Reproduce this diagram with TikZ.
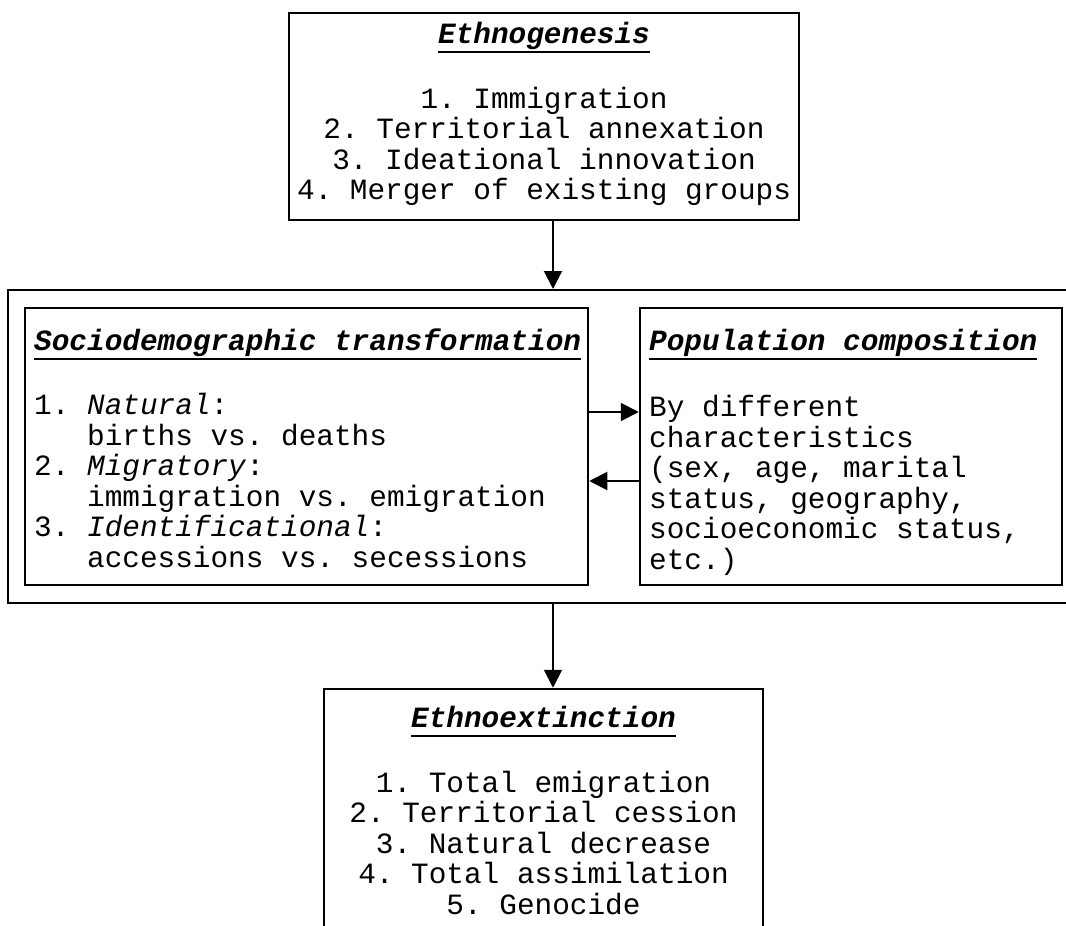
\documentclass[tikz,border=0pt]{standalone}
\usepackage{fontspec}
\setmonofont{Liberation Mono}
\usetikzlibrary{arrows.meta}
\frenchspacing
\newcommand{\boxhead}[1]{%
  \setbox0=\hbox{\bfseries\itshape #1}\dp0=0pt
  \vtop{\copy0\kern7.7pt\hrule height 2.6pt}}
\tikzset{
  outer frame/.style={
    draw,
    line width=2pt,
    inner sep=0pt,
  },
  text box/.style={
    draw,
    line width=2.5pt,
    inner sep=0pt,
  },
  box text/.style={
    font=\ttfamily\fontsize{29.4}{30.5}\selectfont,
    inner sep=0pt,
  },
  flow arrow/.style={
    line width=2pt,
    -{Triangle[length=18pt,width=18pt]},
  }
}
\begin{document}
\begin{tikzpicture}[x=1pt,y=1pt]
\useasboundingbox (0,0) rectangle (1066,-926);

% top box (lists sit on the baseline of their last line)
\node[text box, minimum width=510pt, minimum height=207pt] (genesis) at (544,-116.5) {};
\node[box text, anchor=base] (genesis head) at (544,-43) {\boxhead{Ethnogenesis}};
\node[box text, anchor=base, align=center] (genesis list) at (544,-199.5)
  {1. Immigration\\2. Territorial annexation\\3. Ideational innovation\\4. Merger of existing groups};

% middle frame with the two boxes
\node[outer frame, minimum width=1067pt, minimum height=313pt] (frame) at (541.5,-446.5) {};
\node[text box, minimum width=563pt, minimum height=277pt] (sdt) at (306.5,-446.5) {};
\node[text box, minimum width=422pt, minimum height=277pt] (pop) at (851,-446.5) {};

\node[box text, anchor=base west] (sdt head) at (34,-350) {\boxhead{Sociodemographic transformation}};
\node[box text, anchor=base west, align=left] (sdt list) at (34,-567)
  {1. \textit{Natural}:\\\phantom{1. }births vs. deaths\\2. \textit{Migratory}:\\\phantom{2. }immigration vs. emigration\\3. \textit{Identificational}:\\\phantom{3. }accessions vs. secessions};

\node[box text, anchor=base west] (pop head) at (649,-350) {\boxhead{Population composition}};
\node[box text, anchor=base west, align=left] (pop list) at (649,-569)
  {By different\\characteristics\\(sex, age, marital\\status, geography,\\socioeconomic status,\\etc.)};

% bottom box
\node[text box, minimum width=439pt, minimum height=251pt] (extinct) at (543.5,-814.5) {};
\node[box text, anchor=base] (extinct head) at (543.5,-727) {\boxhead{Ethnoextinction}};
\node[box text, anchor=base, align=center] (extinct list) at (543.5,-914)
  {1. Total emigration\\2. Territorial cession\\3. Natural decrease\\4. Total assimilation\\5. Genocide};

% arrows
\draw[flow arrow] ([xshift=9pt]genesis.south) -- ([xshift=9pt]genesis.south |- frame.north);
\draw[flow arrow] ([yshift=34.5pt]sdt.east) -- ([yshift=34.5pt]sdt.east -| pop.west);
\draw[flow arrow] ([yshift=-34.5pt]pop.west) -- ([yshift=-34.5pt]pop.west -| sdt.east);
\draw[flow arrow] ([xshift=9pt]genesis.south |- frame.south) -- ([xshift=9pt]genesis.south |- extinct.north);

\end{tikzpicture}
\end{document}
